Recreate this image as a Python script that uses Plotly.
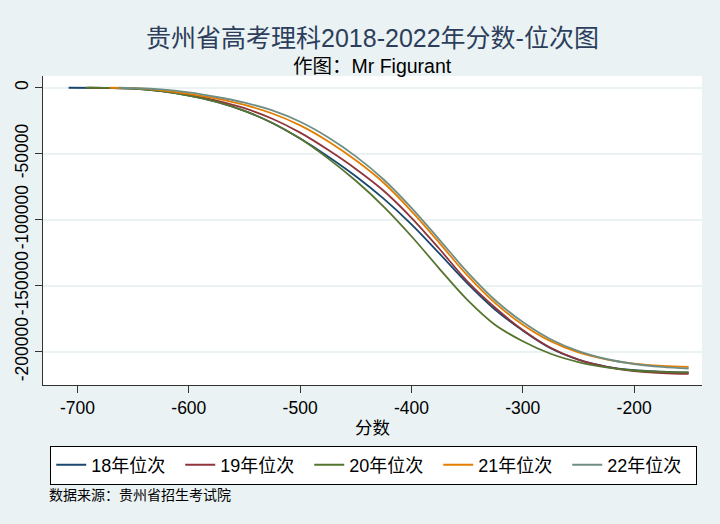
import plotly.graph_objects as go

# x = negative score, y = negative cumulative rank
score_18 = [-708, -675, -650, -625, -600, -575, -550, -525, -500, -475, -450, -425, -400,
            -375, -350, -325, -300, -275, -250, -225, -200, -175, -151]
rank_18 = [0, -200, -600, -2600, -5900, -10700, -17500, -26700, -38500, -52000, -67000, -84000, -103500,
           -125500, -148000, -168000, -184000, -197400, -206000, -211200, -213900, -215000, -215700]

score_19 = [-690, -675, -650, -625, -600, -575, -550, -525, -500, -475, -450, -425, -400,
            -375, -350, -325, -300, -275, -250, -225, -200, -175, -151]
rank_19 = [0, -150, -500, -2300, -5400, -9700, -15500, -23500, -34000, -47000, -61500, -78000, -98500,
           -122000, -146500, -166500, -183500, -197000, -206000, -211500, -214600, -216100, -216800]

score_20 = [-693, -675, -650, -625, -600, -575, -550, -525, -500, -475, -450, -425, -400,
            -375, -350, -325, -300, -275, -250, -225, -200, -175, -151]
rank_20 = [0, -150, -600, -2600, -5900, -10700, -17500, -26700, -38500, -53500, -70500, -90000, -112500,
           -137000, -160500, -179500, -192000, -201500, -207800, -211800, -214200, -215300, -215700]

score_21 = [-671, -650, -625, -600, -575, -550, -525, -500, -475, -450, -425, -400,
            -375, -350, -325, -300, -275, -250, -225, -200, -175, -151]
rank_21 = [0, -350, -1900, -4600, -8200, -13000, -19500, -28500, -40500, -55000, -72000, -93500,
           -117500, -142000, -163000, -179500, -192000, -200500, -205800, -209000, -210700, -211400]

score_22 = [-663, -650, -625, -600, -575, -550, -525, -500, -475, -450, -425, -400,
            -375, -350, -325, -300, -275, -250, -225, -200, -175, -151]
rank_22 = [0, -300, -1300, -3550, -7000, -11300, -17200, -25800, -37500, -52000, -69500, -91000,
           -115000, -139500, -160800, -177500, -190500, -199500, -205500, -209300, -211500, -212700]

names = ["18年位次", "19年位次", "20年位次", "21年位次", "22年位次"]
colors = ["#1a476f", "#90353b", "#55752f", "#e37e00", "#6e8e84"]

x_ticks = [-700, -600, -500, -400, -300, -200]
x_labels = ["-700", "-600", "-500", "-400", "-300", "-200"]
y_ticks = [0, -50000, -100000, -150000, -200000]
y_labels = ["0", "-50000", "-100000", "-150000", "-200000"]

FONT = "Liberation Sans, Noto Sans CJK SC"
BG = "#eaf2f3"

series = [(score_18, rank_18), (score_19, rank_19), (score_20, rank_20),
          (score_21, rank_21), (score_22, rank_22)]

fig = go.Figure()
for (xs, ys), name, color in zip(series, names, colors):
    fig.add_trace(go.Scatter(
        x=xs, y=ys, mode="lines", name=name,
        line=dict(color=color, width=1.8, shape="spline", smoothing=1.0),
    ))

fig.update_layout(
    width=720, height=524,
    paper_bgcolor=BG, plot_bgcolor="white",
    font=dict(family=FONT, size=17, color="black"),
    margin=dict(l=43, r=18, t=76, b=139),
    title=dict(
        text="贵州省高考理科2018-2022年分数-位次图",
        xref="paper", x=0.5, xanchor="center",
        yref="container", y=1 - 38 / 524, yanchor="middle",
        font=dict(family=FONT, size=25, color="#2c3e5c"),
    ),
    showlegend=True,
    legend=dict(
        orientation="h", x=0.011, xanchor="left", y=-0.196, yanchor="top",
        bgcolor="white", bordercolor="black", borderwidth=1,
        font=dict(family=FONT, size=18, color="black"),
        entrywidth=84, entrywidthmode="pixels",
        traceorder="normal",
    ),
    annotations=[
        dict(text="作图：Mr Figurant", xref="paper", yref="paper",
             x=0.5, y=1.0324, xanchor="center", yanchor="middle",
             showarrow=False, font=dict(family=FONT, size=19.5, color="black")),
        dict(text="数据来源：贵州省招生考试院", xref="paper", yref="paper",
             x=0.006, y=-0.357, xanchor="left", yanchor="middle",
             showarrow=False, font=dict(family=FONT, size=14, color="black")),
    ],
)

fig.update_xaxes(
    range=[-731, -139], tickvals=x_ticks, ticktext=x_labels,
    showgrid=False, zeroline=False,
    showline=True, linecolor="#333333", linewidth=1.2,
    ticks="outside", ticklen=7, tickcolor="#333333",
    tickfont=dict(size=17.5),
    title=dict(text="分数", font=dict(size=17.5), standoff=4),
)
fig.update_yaxes(
    range=[-225200, 8900], tickvals=y_ticks, ticktext=y_labels,
    showgrid=True, gridcolor=BG, gridwidth=1.5, zeroline=False,
    showline=True, linecolor="#333333", linewidth=1.2,
    ticks="outside", ticklen=7, tickcolor="#333333",
    tickfont=dict(size=17.5), tickangle=-90,
)

# the page body has a default 8px margin; drop it so the figure fills the window
fig.write_html(
    "out.html",
    config={"displayModeBar": False},
    post_script="document.body.style.margin='0';document.body.style.background='%s';" % BG,
)
